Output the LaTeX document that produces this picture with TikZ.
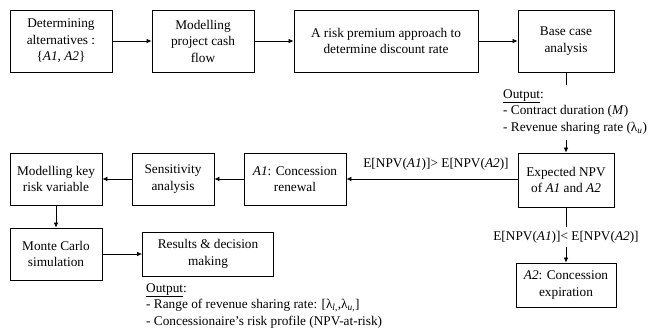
\documentclass[tikz,border=0pt]{standalone}
\usepackage{fontspec}
\setmainfont{Liberation Serif}
\usetikzlibrary{arrows.meta}
\begin{document}
\begin{tikzpicture}[x=1pt,y=-1pt,
  font=\fontsize{13.3}{16.5}\selectfont,
  box/.style={draw,line width=0.8pt,align=center,inner sep=0pt},
  arr/.style={line width=0.7pt,-{Latex[length=5pt,width=4.5pt]}},
  ln/.style={line width=0.7pt},
  outtxt/.style={align=left,anchor=north west,inner sep=0pt}]
\useasboundingbox (0,0) rectangle (650,332);
% top row
\node[box,minimum width=102,minimum height=62] (b1) at (61,41) {Determining\\alternatives :\\\{\textit{A1}, \textit{A2}\}};
\node[box,minimum width=102,minimum height=62] (b2) at (203,41) {Modelling\\project cash\\flow};
\node[box,minimum width=184,minimum height=62] (b3) at (386,41) {A risk premium approach to\\determine discount rate};
\node[box,minimum width=96,minimum height=62] (b4) at (566,41) {Base case\\analysis};
\draw[arr] (b1) -- (b2);
\draw[arr] (b2) -- (b3);
\draw[arr] (b3) -- (b4);
% output 1
\coordinate (o1top) at (566,85);
\coordinate (o1bot) at (566,140);
\node[outtxt] (out1) at (503,89) {\underline{Output}:\\- Contract duration (\textit{M})\\- Revenue sharing rate (λ\textsubscript{\textit{u}})};
\draw[ln] (b4.south) -- (o1top);
% middle row
\node[box,minimum width=96,minimum height=54] (npv) at (566,180) {Expected NPV\\of \textit{A1} and \textit{A2}};
\draw[arr] (o1bot) -- (npv.north);
\node[box,minimum width=102,minimum height=52] (a1) at (295,179) {\textit{A1}: Concession\\renewal};
\node[box,minimum width=82,minimum height=52] (sens) at (173,179) {Sensitivity\\analysis};
\node[box,minimum width=92,minimum height=52] (mkey) at (56,179) {Modelling key\\risk variable};
\draw[arr] (npv.west |- a1) -- node[above=5pt,xshift=4pt] (lab1) {E[NPV(\textit{A1})]> E[NPV(\textit{A2})]} (a1);
\draw[arr] (a1) -- (sens);
\draw[arr] (sens) -- (mkey);
% branch down
\coordinate (d1) at (566,227);
\coordinate (d2) at (566,247);
\node (lab2) at (566,237) {E[NPV(\textit{A1})]< E[NPV(\textit{A2})]};
\draw[ln] (npv.south) -- (d1);
\node[box,minimum width=100,minimum height=44] (a2) at (566,285) {\textit{A2}: Concession\\expiration};
\draw[arr] (d2) -- (a2.north);
% bottom row
\node[box,minimum width=92,minimum height=52] (mc) at (56,254) {Monte Carlo\\simulation};
\node[box,minimum width=131,minimum height=44] (res) at (208,254) {Results \& decision\\making};
\draw[arr] (mkey) -- (mc);
\draw[arr] (mc) -- (res);
\node[outtxt] (out2) at (146,283) {\underline{Output}:\\- Range of revenue sharing rate: [λ\textsubscript{\textit{l},},λ\textsubscript{\textit{u},}]\\- Concessionaire’s risk profile (NPV-at-risk)};
\end{tikzpicture}
\end{document}
